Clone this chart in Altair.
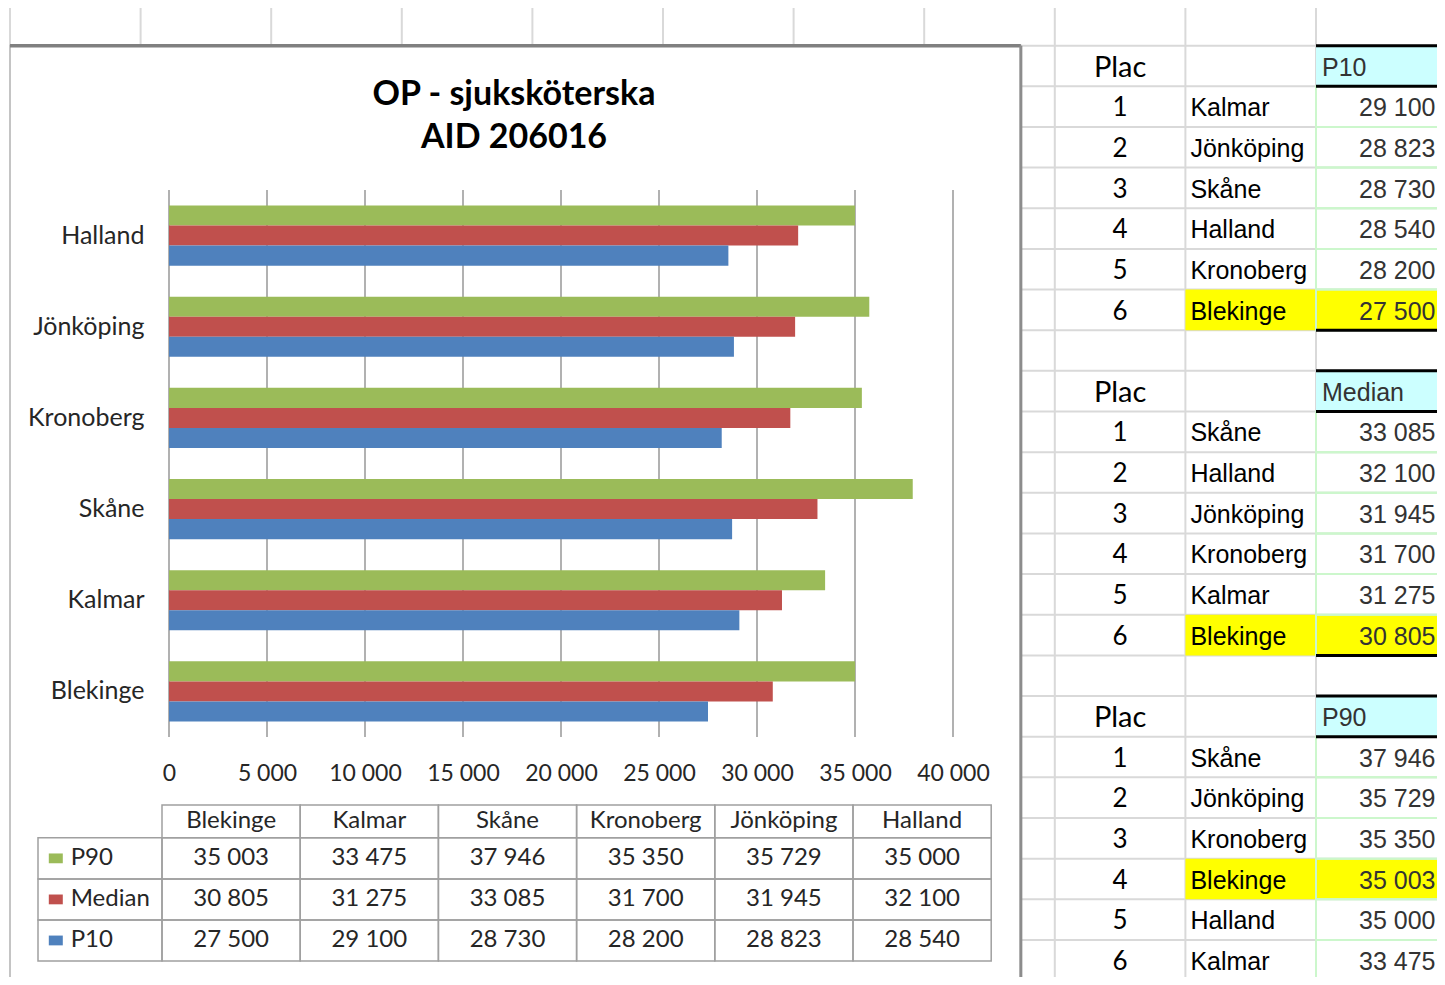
import altair as alt
import pandas as pd

# ---------------- data ----------------
REGIONS = ["Blekinge", "Kalmar", "Skåne", "Kronoberg", "Jönköping", "Halland"]
P90 = [35003, 33475, 37946, 35350, 35729, 35000]
MEDIAN = [30805, 31275, 33085, 31700, 31945, 32100]
P10 = [27500, 29100, 28730, 28200, 28823, 28540]
SERIES = ["P90", "Median", "P10"]
SERIES_COLORS = ["#9BBB59", "#C0504D", "#4F81BD"]
TITLE_LINES = ["OP - sjuksköterska", "AID 206016"]
X_TICKS = [0, 5000, 10000, 15000, 20000, 25000, 30000, 35000, 40000]
RANK_SERIES = ["P10", "Median", "P90"]
RANK_HEADER = "Plac"
HIGHLIGHT = "Blekinge"

VALUES = {"P90": P90, "Median": MEDIAN, "P10": P10}
FMT = "replace(format(datum.value, ','), ',', ' ')"

# ---------------- layout ----------------
W, H = 1429, 969
COL_W, ROW_H = 130.6, 40.65
SX0, SY0 = 2, -3
N_COLS, N_ROWS = 11, 24
FRAME_RIGHT = 7.74
TXT_SHIFT = 0.04

sx = alt.Scale(domain=[0, N_COLS], range=[SX0, SX0 + N_COLS * COL_W], nice=False, zero=False)
sy = alt.Scale(domain=[0, N_ROWS], range=[SY0, SY0 + N_ROWS * ROW_H], nice=False, zero=False)


def sX(f):
    return alt.X(f, type="quantitative", scale=sx, axis=None)


def sY(f):
    return alt.Y(f, type="quantitative", scale=sy, axis=None)


# ---- spreadsheet grid ----
vl = pd.DataFrame({"x": list(range(N_COLS + 1))})
vl["y"], vl["y2"] = 0, N_ROWS + 1
hl = pd.DataFrame({"y": list(range(N_ROWS + 1))})
hl["x"], hl["x2"] = 0, N_COLS + 1
grid_v = alt.Chart(vl).mark_rule(color="#d9d9d9", strokeWidth=2).encode(x=sX("x"), y=sY("y"), y2="y2")
grid_h = alt.Chart(hl).mark_rule(color="#d9d9d9", strokeWidth=2).encode(y=sY("y"), x=sX("x"), x2="x2")

rank_rec, head_rec, cyan_rec, yel_rec, border_rec, vcell_rec = [], [], [], [], [], []
for b, s in enumerate(RANK_SERIES):
    r0 = 1 + 8 * b
    head_rec.append({"row": r0 + 0.5 + TXT_SHIFT, "label": s, "plac": RANK_HEADER,
                     "cx": 10 + 6 / COL_W, "pcx": 8.5})
    cyan_rec.append({"x": 10, "x2": 11, "y": r0, "y2": r0 + 1})
    for yb in (r0, r0 + 1, r0 + 7):
        border_rec.append({"y": yb, "x": 10, "x2": 11})
    ranked = sorted(zip(REGIONS, VALUES[s]), key=lambda t: -t[1])
    for k, (reg, v) in enumerate(ranked):
        row = r0 + 1 + k
        rank_rec.append({"row": row + 0.5 + TXT_SHIFT, "rank": str(k + 1), "region": reg, "value": v,
                         "rx": 8.5, "nx": 9 + 5 / COL_W, "vx": 10.915})
        vcell_rec.append({"x": 10, "x2": 11, "y": row, "y2": row + 1})
        if reg == HIGHLIGHT:
            yel_rec.append({"x": 9, "x2": 11, "y": row, "y2": row + 1})
border_rec.append({"y": 0, "x": 10, "x2": 11})

cyan = alt.Chart(pd.DataFrame(cyan_rec)).mark_rect(color="#CCFFFF").encode(x=sX("x"), x2="x2", y=sY("y"), y2="y2")
yellow = alt.Chart(pd.DataFrame(yel_rec)).mark_rect(color="#FFFF00").encode(x=sX("x"), x2="x2", y=sY("y"), y2="y2")
vcells = alt.Chart(pd.DataFrame(vcell_rec)).mark_rect(fillOpacity=0, stroke="#ccf7cc", strokeWidth=2).encode(
    x=sX("x"), x2="x2", y=sY("y"), y2="y2")
borders = alt.Chart(pd.DataFrame(border_rec)).mark_rule(color="black", strokeWidth=3).encode(
    y=sY("y"), x=sX("x"), x2="x2")

frame_df = pd.DataFrame([{"x": 0, "x2": FRAME_RIGHT, "y": 1, "y2": N_ROWS + 1}])
frame = alt.Chart(frame_df).mark_rect(color="white", stroke="#c4c4c4", strokeWidth=2).encode(
    x=sX("x"), x2="x2", y=sY("y"), y2="y2")
frame_top = alt.Chart(frame_df).mark_rule(color="#808080", strokeWidth=3.5).encode(
    x=sX("x"), x2="x2", y=sY("y"))
frame_right = alt.Chart(frame_df).mark_rule(color="#8c8c8c", strokeWidth=3).encode(
    x=sX("x2"), y=sY("y"), y2="y2")

head_df = pd.DataFrame(head_rec)
rank_df = pd.DataFrame(rank_rec)
plac_t = alt.Chart(head_df).mark_text(font="Lato", fontSize=29, color="black", baseline="middle").encode(
    x=sX("pcx"), y=sY("row"), text="plac:N")
head_t = alt.Chart(head_df).mark_text(font="Liberation Sans", fontSize=25, color="#333333", align="left",
                                      baseline="middle").encode(x=sX("cx"), y=sY("row"), text="label:N")
rank_t = alt.Chart(rank_df).mark_text(font="Lato", fontSize=26, color="black", baseline="middle").encode(
    x=sX("rx"), y=sY("row"), text="rank:N")
name_t = alt.Chart(rank_df).mark_text(font="Liberation Sans", fontSize=25, color="black", align="left",
                                      baseline="middle").encode(x=sX("nx"), y=sY("row"), text="region:N")
val_t = alt.Chart(rank_df).transform_calculate(lbl=FMT).mark_text(
    font="Liberation Sans", fontSize=25, color="#333333", align="right", baseline="middle").encode(
    x=sX("vx"), y=sY("row"), text="lbl:N")

sheet = alt.layer(grid_v, grid_h, cyan, yellow, vcells, borders, frame, frame_top, frame_right,
                  plac_t, head_t, rank_t, name_t, val_t)

# ---- bar chart ----
PX0, PX1 = 161, 945
PY0, PY1 = 182, 729
bar_order = REGIONS[::-1]
bar_df = pd.DataFrame([{"region": r, "series": s, "value": VALUES[s][i]}
                       for i, r in enumerate(REGIONS) for s in SERIES])
bx = alt.Scale(domain=[0, 40000], range=[PX0, PX1], nice=False, zero=False)
by = alt.Scale(domain=bar_order, range=[PY0, PY1], paddingInner=0.34, paddingOuter=0.17)
gy = alt.Scale(domain=[0, 1], range=[PY0, PY1], nice=False, zero=False)

x_axis = alt.Axis(
    orient="bottom", offset=-(H - PY1), values=X_TICKS, labelExpr=FMT, grid=False, domain=False,
    ticks=False, labelPadding=25, labelFont="Lato", labelFontSize=23, labelColor="#262626",
    labelFlush=False, labelOverlap=False, title=None, zindex=2)

gdf = pd.DataFrame({"tick": X_TICKS})
gdf["g0"], gdf["g1"] = 0, 1
gridlines = alt.Chart(gdf).mark_rule(color="#878787", strokeWidth=1.3).encode(
    x=alt.X("tick:Q", scale=bx, axis=x_axis), y=alt.Y("g0:Q", scale=gy, axis=None), y2="g1")

bars = alt.Chart(bar_df).mark_bar().encode(
    x=alt.X("value:Q", scale=bx, axis=x_axis),
    y=alt.Y("region:N", scale=by, axis=alt.Axis(
        orient="left", offset=-PX0, domain=False, ticks=False, labelPadding=25, labelFont="Lato",
        labelFontSize=25, labelColor="#262626", title=None, zindex=2)),
    yOffset=alt.YOffset("series:N", scale=alt.Scale(domain=SERIES, paddingInner=0, paddingOuter=0)),
    color=alt.Color("series:N", scale=alt.Scale(domain=SERIES, range=SERIES_COLORS), legend=None),
)
bar_block = alt.layer(gridlines, bars).resolve_scale(y="independent")

# ---- data table under the chart ----
TC_W, TR_H = 138.2, 41.05
tx = alt.Scale(domain=[0, 6], range=[154, 154 + 6 * TC_W], nice=False, zero=False)
ty = alt.Scale(domain=[0, 3.8], range=[797, 797 + 3.8 * TR_H], nice=False, zero=False)
LEG_X0 = -124 / TC_W

cells = []
for i in range(6):
    cells.append({"x": i, "x2": i + 1, "y": 0, "y2": 0.8})
for j in range(3):
    cells.append({"x": LEG_X0, "x2": 0, "y": 0.8 + j, "y2": 1.8 + j})
    for i in range(6):
        cells.append({"x": i, "x2": i + 1, "y": 0.8 + j, "y2": 1.8 + j})
cell_df = pd.DataFrame(cells)
table_cells = alt.Chart(cell_df).mark_rect(fillOpacity=0, stroke="#a0a0a0", strokeWidth=1.5).encode(
    x=alt.X("x:Q", scale=tx, axis=None), x2="x2", y=alt.Y("y:Q", scale=ty, axis=None), y2="y2")

hdr_df = pd.DataFrame({"region": REGIONS, "cx": [i + 0.5 for i in range(6)]})
hdr_df["cy"] = 0.4
table_hdr = alt.Chart(hdr_df).mark_text(font="Lato", fontSize=24, color="#262626", baseline="middle").encode(
    x=alt.X("cx:Q", scale=tx, axis=None), y=alt.Y("cy:Q", scale=ty, axis=None), text="region:N")

tv = pd.DataFrame([{"value": VALUES[s][i], "cx": i + 0.5, "cy": 1.3 + j}
                   for j, s in enumerate(SERIES) for i in range(6)])
table_vals = alt.Chart(tv).transform_calculate(lbl=FMT).mark_text(
    font="Lato", fontSize=24, color="#262626", baseline="middle").encode(
    x=alt.X("cx:Q", scale=tx, axis=None), y=alt.Y("cy:Q", scale=ty, axis=None), text="lbl:N")

leg = pd.DataFrame({"series": SERIES, "cy": [1.3 + j for j in range(3)]})
leg["sx"] = (47.8 - 154) / TC_W
leg["lx"] = (62.7 - 154) / TC_W
leg_sq = alt.Chart(leg).mark_point(shape="M-1,-0.7H1V0.7H-1Z", filled=True, opacity=1, size=196).encode(
    x=alt.X("sx:Q", scale=tx, axis=None), y=alt.Y("cy:Q", scale=ty, axis=None),
    color=alt.Color("series:N", scale=alt.Scale(domain=SERIES, range=SERIES_COLORS), legend=None))
leg_t = alt.Chart(leg).mark_text(font="Lato", fontSize=24, color="#262626", align="left", baseline="middle").encode(
    x=alt.X("lx:Q", scale=tx, axis=None), y=alt.Y("cy:Q", scale=ty, axis=None), text="series:N")

table_block = alt.layer(table_cells, table_hdr, table_vals, leg_sq, leg_t)

chart = alt.layer(sheet, bar_block, table_block).resolve_scale(
    x="independent", y="independent"
).properties(
    width=W, height=H,
    title=alt.TitleParams(text=TITLE_LINES, font="Lato", fontSize=34, fontWeight="bold", color="black",
                          anchor="middle", frame="group", dx=506 - W / 2, offset=-151, lineHeight=43),
    autosize=alt.AutoSizeParams(type="none"), padding=0, background="white",
).configure_view(stroke="transparent")

chart.save("out.html", embed_options={"renderer": "svg", "actions": False})
